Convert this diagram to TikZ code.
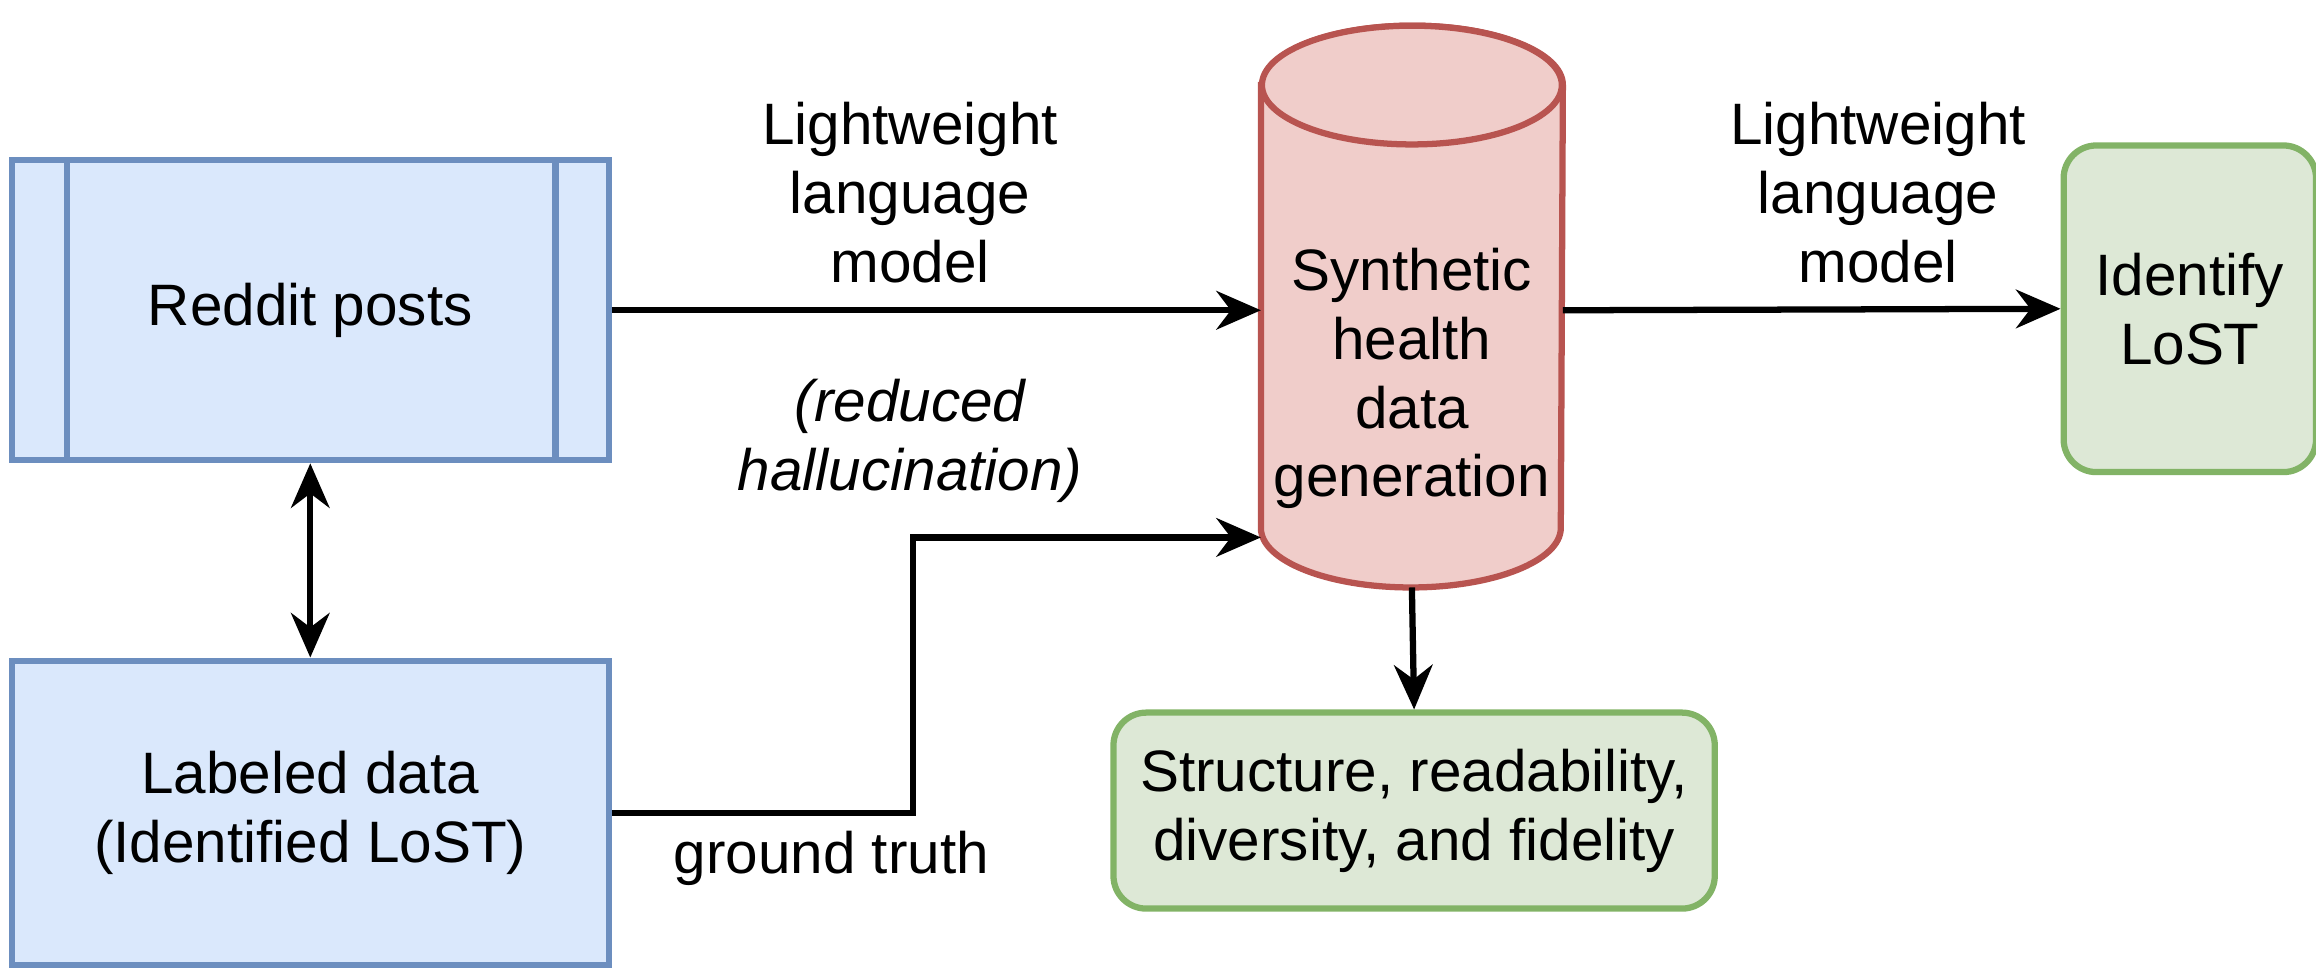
\documentclass[tikz,border=0pt]{standalone}
\usepackage{fontspec}
\setmainfont{Liberation Sans}
\usetikzlibrary{positioning,arrows.meta}
\definecolor{bluefill}{HTML}{DAE8FC}
\definecolor{bluedraw}{HTML}{6C8EBF}
\definecolor{redfill}{HTML}{F0CDCA}
\definecolor{reddraw}{HTML}{B85450}
\definecolor{greenfill}{HTML}{DDE8D6}
\definecolor{greendraw}{HTML}{82B366}
\tikzset{
  source/.style={draw=bluedraw, fill=bluefill, line width=1.2pt, minimum width=4.02cm, minimum height=2.02cm, align=center},
  result/.style={draw=greendraw, fill=greenfill, line width=1.2pt, rounded corners=0.22cm, align=center},
  store/.style={draw=reddraw, fill=redfill, line width=1.2pt},
  flow/.style={-{Stealth[length=0.3cm, width=0.26cm]}, line width=1.2pt},
  lbl/.style={align=center}
}
\begin{document}
\begin{tikzpicture}[font=\fontsize{11.2}{13.2}\selectfont]
  \useasboundingbox (0,0) rectangle (15.6,-6.547);
  % Nodes
  \node[source] (reddit) at (2.09,-2.09) {Reddit posts};
  \draw[bluedraw, line width=1.2pt] ([xshift=0.39cm]reddit.north west) -- ([xshift=0.39cm]reddit.south west)
    ([xshift=-0.38cm]reddit.north east) -- ([xshift=-0.38cm]reddit.south east);
  \node[source, minimum height=2.05cm] (labeled) at (2.09,-5.475) {Labeled data\\(Identified LoST)};
  \node[minimum width=2.02cm, minimum height=3.77cm, inner sep=0pt] (gen) at (9.51,-2.065) {};
  \path[store] ([yshift=-0.4cm]gen.north west) -- ([yshift=0.4cm]gen.south west)
    arc[start angle=180, end angle=360, x radius=1.01cm, y radius=0.4cm]
    -- ([yshift=-0.4cm]gen.north east)
    arc[start angle=0, end angle=180, x radius=1.01cm, y radius=0.4cm] -- cycle;
  \draw[store] ([yshift=-0.4cm]gen.north) ellipse[x radius=1.01cm, y radius=0.4cm];
  \node[lbl] (gentext) at (9.51,-2.55) {Synthetic\\health\\data\\generation};
  \node[result, minimum width=1.7cm, minimum height=2.2cm] (identify) at (14.75,-2.08) {Identify\\LoST};
  \node[result, minimum width=4.05cm, minimum height=1.32cm] (quality) at (9.525,-5.46) {Structure, readability,\\diversity, and fidelity};
  \coordinate (bend) at (6.15,-3.62);

  % Connectors
  \draw[flow] (reddit.east) -- (gen.west |- reddit.east);
  \draw[flow] (gen.east |- reddit.east) -- (identify.west);
  \draw[flow] (labeled.east) -| (bend) -- (gen.west |- bend);
  \draw[flow] (gen.south) -- (quality.north);
  \draw[{Stealth[length=0.3cm, width=0.26cm]}-{Stealth[length=0.3cm, width=0.26cm]}, line width=1.2pt] (reddit.south) -- (labeled.north);

  % Labels
  \node[lbl] (lm1) at (6.13,-1.3) {Lightweight\\language\\model};
  \node[lbl, font=\fontsize{11.2}{13.2}\selectfont\itshape] (halluc) at (6.13,-2.97) {(reduced\\hallucination)};
  \node[lbl] (lm2) at (12.65,-1.3) {Lightweight\\language\\model};
  \node[lbl] (truth) at (5.6,-5.78) {ground truth};
\end{tikzpicture}
\end{document}
